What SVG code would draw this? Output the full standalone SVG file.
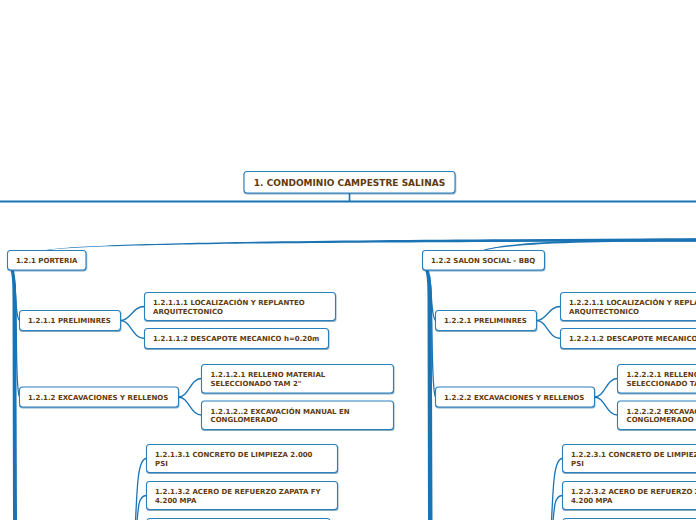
<svg xmlns="http://www.w3.org/2000/svg" width="696" height="520" viewBox="0 0 696 520">
<defs>
<style>
.box{fill:#fff;stroke:#2a7fbd;stroke-width:1.1;filter:url(#sh)}
.t{font-family:"DejaVu Sans",Verdana,sans-serif;font-weight:bold;font-size:7px;fill:#613b0e}
.rt{font-size:9px}
.c{fill:none;stroke:#1a73b3;stroke-width:1.3;stroke-linecap:round}
.f{fill:#1a73b3}
</style>
<filter id="sh" x="-10%" y="-20%" width="120%" height="150%">
<feDropShadow dx="0.4" dy="1" stdDeviation="0.5" flood-color="#1c5f8f" flood-opacity="0.55"/>
</filter>
</defs>
<rect width="696" height="520" fill="#fff"/>
<g id="connectors">
<line x1="349.5" y1="193" x2="349.5" y2="201" stroke="#1a73b3" stroke-width="1.6"/>
<line x1="0" y1="201.5" x2="696" y2="201.5" stroke="#1a73b3" stroke-width="1.8"/>
<path class="f" d="M696,238.5 C420,239 90,241.5 46,250 L49.5,250 C95,243 420,241.8 696,241.8 Z"/>
<path class="f" d="M696,238.2 C600,239 512,241 483,250 L486.5,250 C516,243 600,241.5 696,241.5 Z"/>
<path class="f" d="M10.5,269.5 C12,276 12.5,282 12.5,300 L13,520 L17,520 L16.2,300 C16,283 15,275 13.8,269.5 Z"/>
<path class="c" d="M14,276 C16.5,292 15,317 19.5,320.5"/>
<path class="c" d="M15,284 C17.5,320 15,390 19.5,397"/>
<path class="c" d="M120.5,320.5 C131,320.5 132,306.5 144.5,306.5"/>
<path class="c" d="M120.5,320.5 C131,320.5 132,338.5 144.5,338.5"/>
<path class="c" d="M178.5,397 C189,397 190,378.5 201.5,378.5"/>
<path class="c" d="M178.5,397 C189,397 190,415 201.5,415"/>
<path class="c" d="M134.5,545 C137,490 137,458.5 146.5,458.5"/>
<path class="c" d="M135.5,545 C138,505 138,495.5 146.5,495.5"/>
<path class="c" d="M136.5,545 C139,530 140,532 147,532"/>
<path class="f" d="M425,269.5 C427,276 427.5,282 427.5,300 L428,520 L432.5,520 L431.7,300 C431.5,283 430.5,275 428.5,269.5 Z"/>
<path class="c" d="M429.5,276 C432,292 431,317 435.5,320.5"/>
<path class="c" d="M430.5,284 C433,320 431,390 435.5,397"/>
<path class="c" d="M536.5,320.5 C547,320.5 548,306.5 560.5,306.5"/>
<path class="c" d="M536.5,320.5 C547,320.5 548,338.5 560.5,338.5"/>
<path class="c" d="M594.5,397 C605,397 606,378.5 617.5,378.5"/>
<path class="c" d="M594.5,397 C605,397 606,415 617.5,415"/>
<path class="c" d="M550.5,545 C553,490 553,458.5 562.5,458.5"/>
<path class="c" d="M551.5,545 C554,505 554,495.5 562.5,495.5"/>
<path class="c" d="M552.5,545 C555,530 556,532 563,532"/>
</g>
<g id="n1">
<rect class="box" x="244" y="171.5" width="211" height="21.5" rx="3"/>
<text class="t rt" x="349.5" y="186" text-anchor="middle">1. CONDOMINIO CAMPESTRE SALINAS</text>
</g>
<g id="n121">
<rect class="box" x="7.5" y="250.5" width="78.5" height="19.5" rx="3"/>
<text class="t" x="16" y="262.8">1.2.1 PORTERIA</text>
</g>
<g id="n1211">
<rect class="box" x="19.5" y="310.5" width="101" height="20" rx="3"/>
<text class="t" x="28" y="323.3">1.2.1.1 PRELIMINRES</text>
</g>
<g id="n12111">
<rect class="box" x="144.5" y="292.5" width="191" height="28" rx="3"/>
<text class="t" x="153" y="305">1.2.1.1.1 LOCALIZACIÓN Y REPLANTEO</text>
<text class="t" x="153" y="313.5">ARQUITECTONICO</text>
</g>
<g id="n12112">
<rect class="box" x="144.5" y="328.5" width="184" height="20" rx="3"/>
<text class="t" x="153" y="341.2">1.2.1.1.2 DESCAPOTE MECANICO h=0.20m</text>
</g>
<g id="n1212">
<rect class="box" x="19.5" y="387" width="159" height="20" rx="3"/>
<text class="t" x="28" y="399.5">1.2.1.2 EXCAVACIONES Y RELLENOS</text>
</g>
<g id="n12121">
<rect class="box" x="201.5" y="364.5" width="192" height="28.5" rx="3"/>
<text class="t" x="210.5" y="377">1.2.1.2.1 RELLENO MATERIAL</text>
<text class="t" x="210.5" y="385.7">SELECCIONADO TAM 2"</text>
</g>
<g id="n12122">
<rect class="box" x="201.5" y="401" width="192" height="28.5" rx="3"/>
<text class="t" x="210.5" y="413.7">1.2.1.2..2 EXCAVACIÓN MANUAL EN</text>
<text class="t" x="210.5" y="422.3">CONGLOMERADO</text>
</g>
<g id="n12131">
<rect class="box" x="146.5" y="444.5" width="191" height="28" rx="3"/>
<text class="t" x="155" y="457.3">1.2.1.3.1 CONCRETO DE LIMPIEZA 2.000</text>
<text class="t" x="155" y="466">PSI</text>
</g>
<g id="n12132">
<rect class="box" x="146.5" y="481.5" width="191" height="28" rx="3"/>
<text class="t" x="155" y="494.3">1.2.1.3.2 ACERO DE REFUERZO ZAPATA FY</text>
<text class="t" x="155" y="502.6">4.200 MPA</text>
</g>
<g id="n12133">
<rect class="box" x="147" y="518.5" width="183" height="28" rx="3"/>
</g>
<g id="n122">
<rect class="box" x="422.5" y="250.5" width="122" height="19.5" rx="3"/>
<text class="t" x="431" y="262.8">1.2.2 SALON SOCIAL - BBQ</text>
</g>
<g id="n1221">
<rect class="box" x="435.5" y="310.5" width="101" height="20" rx="3"/>
<text class="t" x="444" y="323.3">1.2.2.1 PRELIMINRES</text>
</g>
<g id="n12211">
<rect class="box" x="560.5" y="292.5" width="191" height="28" rx="3"/>
<text class="t" x="569" y="305">1.2.2.1.1 LOCALIZACIÓN Y REPLANTEO</text>
<text class="t" x="569" y="313.5">ARQUITECTONICO</text>
</g>
<g id="n12212">
<rect class="box" x="560.5" y="328.5" width="184" height="20" rx="3"/>
<text class="t" x="569" y="341.2">1.2.2.1.2 DESCAPOTE MECANICO h=0.20m</text>
</g>
<g id="n1222">
<rect class="box" x="435.5" y="387" width="159" height="20" rx="3"/>
<text class="t" x="444" y="399.5">1.2.2.2 EXCAVACIONES Y RELLENOS</text>
</g>
<g id="n12221">
<rect class="box" x="617.5" y="364.5" width="192" height="28.5" rx="3"/>
<text class="t" x="626.5" y="377">1.2.2.2.1 RELLENO MATERIAL</text>
<text class="t" x="626.5" y="385.7">SELECCIONADO TAM 2"</text>
</g>
<g id="n12222">
<rect class="box" x="617.5" y="401" width="192" height="28.5" rx="3"/>
<text class="t" x="626.5" y="413.7">1.2.2.2.2 EXCAVACIÓN MANUAL EN</text>
<text class="t" x="626.5" y="422.3">CONGLOMERADO</text>
</g>
<g id="n12231">
<rect class="box" x="562.5" y="444.5" width="191" height="28" rx="3"/>
<text class="t" x="571" y="457.3">1.2.2.3.1 CONCRETO DE LIMPIEZA 2.000</text>
<text class="t" x="571" y="466">PSI</text>
</g>
<g id="n12232">
<rect class="box" x="562.5" y="481.5" width="191" height="28" rx="3"/>
<text class="t" x="571" y="494.3">1.2.2.3.2 ACERO DE REFUERZO ZAPATA FY</text>
<text class="t" x="571" y="502.6">4.200 MPA</text>
</g>
<g id="n12233">
<rect class="box" x="563" y="518.5" width="183" height="28" rx="3"/>
</g>
</svg>
